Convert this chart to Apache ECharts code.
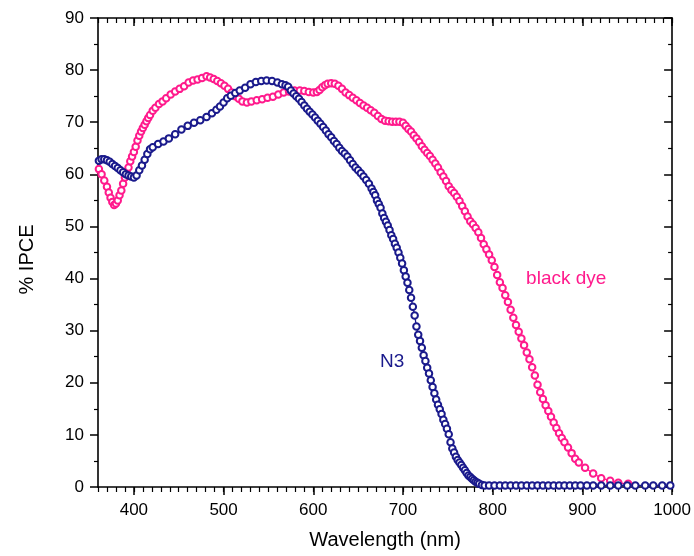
<!DOCTYPE html>
<html>
<head>
<meta charset="utf-8">
<script src="https://cdn.jsdelivr.net/npm/echarts@6/dist/echarts.min.js"></script>
<style>html,body{margin:0;padding:0;background:#fff}#c{width:694px;height:556px}</style>
</head>
<body>
<div id="c"></div>
<script>
// ---- data ----
const n3Wl = [361,364,367,370,373,376,379,382,385,388,391,394,397,400,403,406,409,412,415,418,421,427,433,439,446,453,460,467,474,481,487,492,496,500,504,508,513,518,524,530,536,542,548,554,560,565,569,572,575,578,581,584,587,590,593,596,599,602,605,608,611,614,617,620,623,626,629,632,635,638,641,644,647,650,653,656,659,662,665,667,669,671,673,675,677,679,681,683,685,687,689,691,693,695,697,699,701,703,705,707,709,711,713,715,717,719,721,723,725,727,729,731,733,735,737,739,741,743,745,747,749,751,753,755,757,759,761,763,765,767,769,771,773,775,777,779,781,783,785,788,791,796,802,808,814,820,826,832,838,844,850,856,862,868,874,880,886,892,898,905,912,921,931,940,950,959,970,979,989,998];
const n3Ipce = [62.6,62.9,62.9,62.7,62.4,62.0,61.6,61.2,60.8,60.4,60.0,59.8,59.6,59.4,59.8,60.8,61.7,62.8,63.9,64.8,65.2,65.8,66.3,66.9,67.7,68.6,69.3,69.9,70.4,71.0,71.7,72.4,73.0,73.8,74.6,75.1,75.6,76.1,76.6,77.3,77.7,77.9,78.0,77.9,77.6,77.3,77.1,76.8,76.1,75.5,75.0,74.5,73.9,73.2,72.6,72.0,71.5,70.9,70.3,69.7,69.1,68.4,67.7,67.1,66.4,65.8,65.1,64.5,64.0,63.4,62.7,62.0,61.3,60.8,60.2,59.6,58.9,58.2,57.3,56.6,56.0,55.0,54.3,53.6,52.5,51.6,50.9,50.2,49.3,48.3,47.6,46.7,45.9,45.0,44.0,42.9,41.6,40.4,39.2,37.8,36.3,34.6,32.9,30.8,29.2,28.0,26.7,25.3,24.2,22.9,21.8,20.5,19.2,18.0,16.8,15.8,14.9,14.0,12.9,12.1,11.2,10.1,8.6,7.4,6.6,5.8,5.2,4.7,4.2,3.7,3.2,2.7,2.2,1.9,1.6,1.3,1.0,0.8,0.6,0.4,0.3,0.3,0.3,0.3,0.3,0.3,0.3,0.3,0.3,0.3,0.3,0.3,0.3,0.3,0.3,0.3,0.3,0.3,0.3,0.3,0.3,0.3,0.3,0.3,0.3,0.3,0.3,0.3,0.3,0.3];
const blackWl = [361,364,367,370,372,374,376,378,380,382,384,386,388,390,392,394,396,398,400,402,404,406,408,410,412,414,416,418,421,424,428,432,436,441,446,451,456,461,466,471,476,481,485,489,493,497,501,505,509,513,517,521,526,531,537,543,549,555,561,567,573,579,585,590,595,600,604,607,610,613,616,620,624,628,632,636,640,644,648,652,656,660,664,668,672,676,680,684,688,692,696,700,703,706,709,712,715,718,721,724,727,730,733,736,739,742,745,748,751,754,757,760,763,766,769,772,775,778,781,784,787,790,793,796,799,802,805,808,811,814,817,820,823,826,829,832,835,838,841,844,847,850,853,856,859,862,865,868,871,874,877,880,884,888,892,896,903,912,921,931,940,951];
const blackIpce = [61.0,60.0,58.8,57.6,56.5,55.5,54.7,54.1,54.4,55.0,56.0,56.9,58.2,59.4,60.3,61.3,62.5,63.4,64.3,65.3,66.5,67.4,68.2,68.9,69.5,70.2,70.8,71.4,72.2,72.8,73.5,74.0,74.6,75.3,75.9,76.4,76.9,77.6,78.0,78.2,78.5,78.8,78.6,78.3,77.9,77.5,77.0,76.4,75.7,75.0,74.5,74.0,73.8,74.0,74.2,74.4,74.7,74.9,75.3,75.7,75.9,76.1,76.1,76.0,75.8,75.7,75.8,76.2,76.7,77.1,77.4,77.5,77.4,77.0,76.4,75.7,75.2,74.7,74.2,73.7,73.2,72.8,72.3,71.8,71.2,70.6,70.3,70.2,70.1,70.1,70.1,69.9,69.3,68.7,68.2,67.5,66.9,66.2,65.4,64.7,64.1,63.5,62.8,62.1,61.3,60.4,59.6,58.7,57.7,57.0,56.4,55.7,54.9,53.9,52.9,51.9,51.0,50.4,49.7,48.9,47.8,46.6,45.6,44.6,43.5,42.2,40.7,39.3,38.2,36.8,35.5,34.0,32.5,31.1,29.8,28.5,27.2,25.8,24.5,23.0,21.4,19.6,18.2,16.9,15.7,14.6,13.5,12.4,11.3,10.3,9.4,8.6,7.6,6.5,5.4,4.7,3.7,2.6,1.7,1.2,0.8,0.6];
const xMajorTicks = [400,500,600,700,800,900,1000];
const yTicks = [0,10,20,30,40,50,60,70,80,90];
const seriesNames = ['black dye','N3'];
const labelPos = {'N3':[688,24], 'black dye':[882,40]};

const FONT = '"Liberation Sans", Arial, sans-serif';
const BLUE = '#1a1a8c';
const PINK = '#ff1a8c';

const zip = (a,b) => a.map((v,i)=>[v,b[i]]);

const chart = echarts.init(document.getElementById('c'), null, {renderer:'canvas'});
const axisLine = {show:true, lineStyle:{color:'#000', width:1.6}};
const baseX = {type:'value', min:360, max:1000, splitLine:{show:false}, gridIndex:0};
const baseY = {type:'value', min:0, max:90, interval:10, splitLine:{show:false}, gridIndex:0};

function mkSeries(name, wl, val, color){
  return {
    name, type:'line', data: zip(wl,val), xAxisIndex:0, yAxisIndex:0,
    symbol:'emptyCircle', symbolSize:6.5, showAllSymbol:true,
    lineStyle:{color, width:1.3},
    itemStyle:{color, borderColor:color, borderWidth:1.1},
    emphasis:{disabled:true}, animation:false,
    markPoint:{
      symbol:'circle', symbolSize:0, silent:true, animation:false,
      label:{show:true, position:'inside', formatter:name, color, fontFamily:FONT, fontSize:19},
      data:[{coord:labelPos[name]}]
    }
  };
}

chart.setOption({
  animation:false,
  backgroundColor:'#fff',
  grid:{left:98, right:19, top:18, bottom:69, containLabel:false},
  xAxis:[
    Object.assign({}, baseX, {position:'bottom', interval:10,
      name:'Wavelength (nm)', nameLocation:'middle', nameGap:43,
      nameTextStyle:{fontFamily:FONT, fontSize:20, color:'#000'},
      axisLine, axisTick:{show:true, length:8, inside:false, customValues:xMajorTicks, lineStyle:{color:'#000', width:1.5}},
      axisLabel:{show:true, customValues:xMajorTicks, margin:15, fontFamily:FONT, fontSize:17, color:'#000',
        formatter:(v)=>String(v)}}),
    Object.assign({}, baseX, {position:'bottom', interval:10,
      axisLine:{show:false}, axisTick:{show:true, length:5, inside:false, lineStyle:{color:'#000', width:1.2}},
      axisLabel:{show:false}}),
    Object.assign({}, baseX, {position:'top', interval:10,
      axisLine, axisTick:{show:true, length:8, inside:true, customValues:xMajorTicks, lineStyle:{color:'#000', width:1.5}},
      axisLabel:{show:false}}),
    Object.assign({}, baseX, {position:'top', interval:10,
      axisLine:{show:false}, axisTick:{show:true, length:5, inside:true, lineStyle:{color:'#000', width:1.2}},
      axisLabel:{show:false}})
  ],
  yAxis:[
    Object.assign({}, baseY, {position:'left',
      name:'% IPCE', nameLocation:'middle', nameGap:61, nameRotate:90,
      nameTextStyle:{fontFamily:FONT, fontSize:20, color:'#000', padding:[0,14,0,0]},
      axisLine, axisTick:{show:true, length:8, inside:false, lineStyle:{color:'#000', width:1.5}},
      minorTick:{show:true, splitNumber:2, length:4, lineStyle:{color:'#000', width:1.2}},
      axisLabel:{show:true, margin:14, fontFamily:FONT, fontSize:17, color:'#000',
        formatter:(v)=> yTicks.includes(v) ? String(v) : ''}}),
    Object.assign({}, baseY, {position:'right',
      axisLine, axisTick:{show:true, length:8, inside:true, lineStyle:{color:'#000', width:1.5}},
      minorTick:{show:true, splitNumber:2, length:4, lineStyle:{color:'#000', width:1.2}},
      axisLabel:{show:false}})
  ],
  series:[
    mkSeries(seriesNames[0], blackWl, blackIpce, PINK),
    mkSeries(seriesNames[1], n3Wl, n3Ipce, BLUE)
  ]
});
</script>
</body>
</html>
